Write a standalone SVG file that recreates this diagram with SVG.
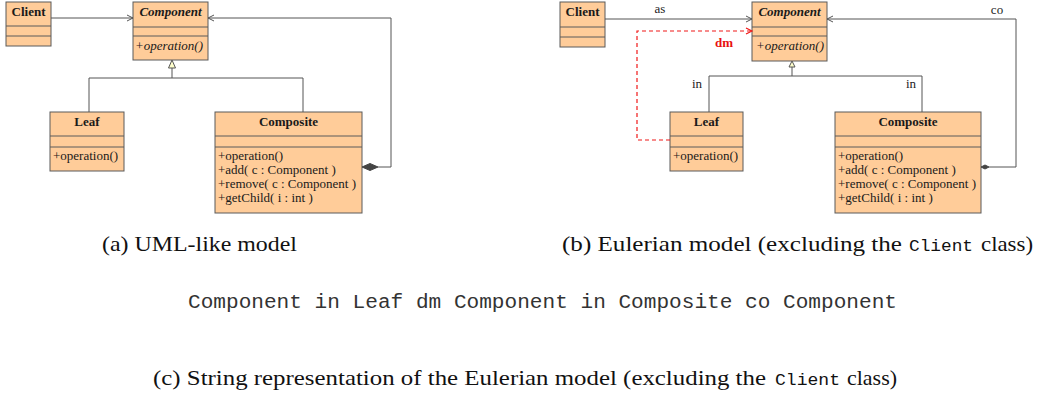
<svg xmlns="http://www.w3.org/2000/svg" width="1040" height="394" viewBox="0 0 1040 394">
<style>
.box{fill:#FFCC99;stroke:#5a5a5a;stroke-width:1}
.div{stroke:#5a5a5a;stroke-width:1}
.t{font-family:"Liberation Serif","Times New Roman",serif;font-size:13px;fill:#1a1a1a}
.title{font-weight:bold;text-anchor:middle}
.it{font-style:italic}
.ln{fill:none;stroke:#555;stroke-width:1}
.red{fill:none;stroke:#f01818;stroke-width:1.2;stroke-dasharray:4,3}
.lbl{font-family:"Liberation Serif","Times New Roman",serif;font-size:13px;fill:#222;text-anchor:middle}
.cap{font-family:"Liberation Serif","Times New Roman",serif;font-size:21px;fill:#111}
.mono{font-family:"Liberation Mono","Courier New",monospace;fill:#111}
</style>
<defs>
<marker id="open" markerWidth="10" markerHeight="10" refX="7" refY="4" orient="auto" markerUnits="userSpaceOnUse">
<path d="M1,1 L7,4 L1,7" fill="none" stroke="#555" stroke-width="1"/>
</marker>
<marker id="openRed" markerWidth="10" markerHeight="10" refX="7" refY="4" orient="auto" markerUnits="userSpaceOnUse">
<path d="M1,1 L7,4 L1,7" fill="none" stroke="#f01818" stroke-width="1.2"/>
</marker>
</defs>

<!-- Panel a nodes -->
<g id="a-client">
<rect class="box" x="6" y="2" width="45" height="44"/>
<line class="div" x1="6" y1="26" x2="51" y2="26"/>
<line class="div" x1="6" y1="36" x2="51" y2="36"/>
<text class="t title" x="28.5" y="16">Client</text>
</g>
<g id="a-component">
<rect class="box" x="133" y="2" width="75" height="58"/>
<line class="div" x1="133" y1="27" x2="208" y2="27"/>
<line class="div" x1="133" y1="36" x2="208" y2="36"/>
<text class="t title it" x="170.5" y="16">Component</text>
<text class="t it" x="135" y="50">+operation()</text>
</g>
<g id="a-leaf">
<rect class="box" x="50" y="112" width="74" height="59"/>
<line class="div" x1="50" y1="136" x2="124" y2="136"/>
<line class="div" x1="50" y1="147" x2="124" y2="147"/>
<text class="t title" x="87" y="126">Leaf</text>
<text class="t" x="53" y="160">+operation()</text>
</g>
<g id="a-composite">
<rect class="box" x="215" y="112" width="147" height="101"/>
<line class="div" x1="215" y1="136" x2="362" y2="136"/>
<line class="div" x1="215" y1="147" x2="362" y2="147"/>
<text class="t title" x="288.5" y="126">Composite</text>
<text class="t" x="218" y="160">+operation()</text>
<text class="t" x="218" y="174">+add( c : Component )</text>
<text class="t" x="218" y="188">+remove( c : Component )</text>
<text class="t" x="218" y="202">+getChild( i : int )</text>
</g>

<!-- Panel b nodes -->
<g id="b-client">
<rect class="box" x="560" y="2" width="45" height="45"/>
<line class="div" x1="560" y1="27" x2="605" y2="27"/>
<line class="div" x1="560" y1="37" x2="605" y2="37"/>
<text class="t title" x="582.5" y="16">Client</text>
</g>
<g id="b-component">
<rect class="box" x="752" y="2" width="75" height="59"/>
<line class="div" x1="752" y1="27" x2="827" y2="27"/>
<line class="div" x1="752" y1="36" x2="827" y2="36"/>
<text class="t title it" x="789.5" y="16">Component</text>
<text class="t it" x="756" y="50">+operation()</text>
</g>
<g id="b-leaf">
<rect class="box" x="670" y="112" width="73" height="59"/>
<line class="div" x1="670" y1="136" x2="743" y2="136"/>
<line class="div" x1="670" y1="147" x2="743" y2="147"/>
<text class="t title" x="706.5" y="126">Leaf</text>
<text class="t" x="673" y="160">+operation()</text>
</g>
<g id="b-composite">
<rect class="box" x="835" y="112" width="146" height="101"/>
<line class="div" x1="835" y1="136" x2="981" y2="136"/>
<line class="div" x1="835" y1="147" x2="981" y2="147"/>
<text class="t title" x="908" y="126">Composite</text>
<text class="t" x="838" y="160">+operation()</text>
<text class="t" x="838" y="174">+add( c : Component )</text>
<text class="t" x="838" y="188">+remove( c : Component )</text>
<text class="t" x="838" y="202">+getChild( i : int )</text>
</g>

<!-- Connectors -->
<g id="connectors">
<!-- panel a -->
<line class="ln" x1="51" y1="18" x2="133" y2="18" marker-end="url(#open)"/>
<polyline class="ln" points="89,112 89,78 303,78 303,112"/>
<line class="ln" x1="172" y1="78" x2="172" y2="68"/>
<polygon points="172,60 168.5,68 175.5,68" fill="#FFFFCC" stroke="#555" stroke-width="1"/>
<polyline class="ln" points="378,167 391,167 391,18 208,18" marker-end="url(#open)"/>
<polygon points="362,167 370,163.5 378,167 370,170.5" fill="#444" stroke="#444" stroke-width="1"/>
<!-- panel b -->
<line class="ln" x1="605" y1="19" x2="752" y2="19" marker-end="url(#open)"/>
<polyline class="ln" points="709,112 709,76 922,76 922,112"/>
<line class="ln" x1="792" y1="76" x2="792" y2="67"/>
<polygon points="792,61 789,67 795,67" fill="#FFFFCC" stroke="#555" stroke-width="1"/>
<polyline class="ln" points="989,167 1016,167 1016,19 827,19" marker-end="url(#open)"/>
<polygon points="981,167 985,165 989,167 985,169" fill="#444" stroke="#444" stroke-width="1"/>
<polyline class="red" points="670,140 637,140 637,31 752,31" marker-end="url(#openRed)"/>
<text class="lbl" x="660" y="13">as</text>
<text class="lbl" x="997" y="14">co</text>
<text class="lbl" x="697" y="88">in</text>
<text class="lbl" x="911" y="88">in</text>
<text class="lbl" x="724" y="47" style="fill:#e81010;font-weight:bold">dm</text>
</g>

<!-- Captions -->
<text class="cap" x="102" y="251" textLength="195" lengthAdjust="spacingAndGlyphs">(a)  UML-like model</text>
<text class="cap" x="562" y="251" textLength="340" lengthAdjust="spacingAndGlyphs">(b) Eulerian model (excluding the</text>
<text class="mono" x="909" y="251" font-size="17" textLength="64" lengthAdjust="spacingAndGlyphs">Client</text>
<text class="cap" x="981" y="251" textLength="52" lengthAdjust="spacingAndGlyphs">class)</text>
<text class="mono" x="188" y="308" font-size="20" textLength="709" lengthAdjust="spacingAndGlyphs" style="fill:#333">Component in Leaf dm Component in Composite co Component</text>
<text class="cap" x="153" y="385" textLength="613" lengthAdjust="spacingAndGlyphs">(c) String representation of the Eulerian model (excluding the</text>
<text class="mono" x="775" y="385" font-size="17" textLength="65" lengthAdjust="spacingAndGlyphs">Client</text>
<text class="cap" x="847" y="385" textLength="50" lengthAdjust="spacingAndGlyphs">class)</text>
</svg>
